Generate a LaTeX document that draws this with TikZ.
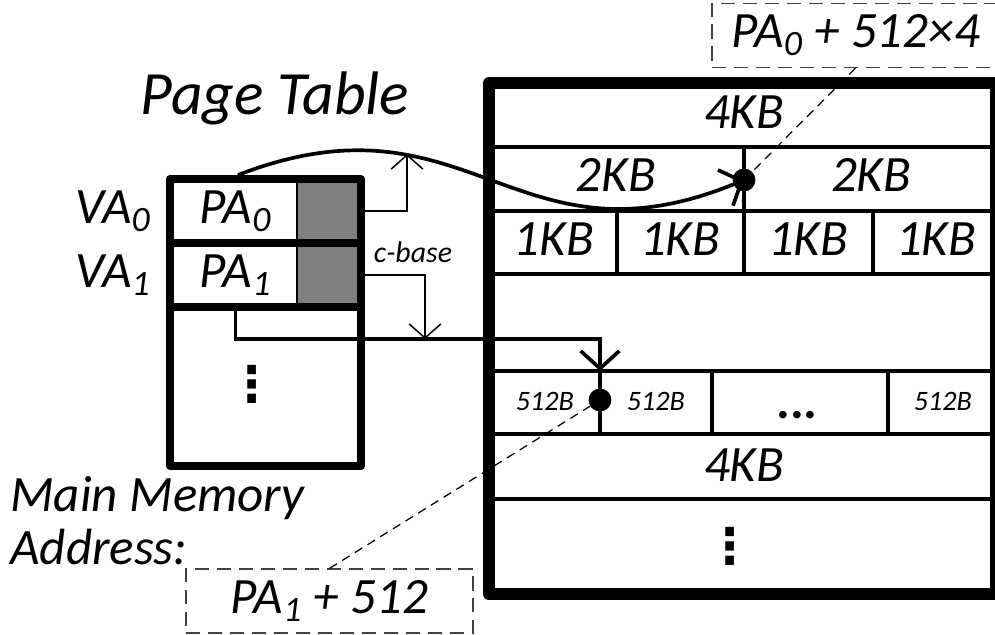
\documentclass[tikz,border=0pt]{standalone}
\usepackage{fontspec}
\setmainfont{Carlito}
\newfontface\symface{DejaVu Sans Bold}
\usetikzlibrary{arrows.meta,positioning}
\newcommand{\idx}[1]{\textsubscript{#1}}
\newcommand{\vdotz}{{\symface\fontsize{28}{30}\selectfont ⋮}}
\tikzset{
  heavy/.style={line width=4.5pt,line join=round},
  memwall/.style={line width=6.8pt,line join=round},
  grid/.style={line width=2pt},
  cell/.style={inner sep=0pt,minimum width=2.46cm,minimum height=1.28cm},
  flag/.style={inner sep=0pt,minimum width=1.26cm,minimum height=1.28cm,fill=gray},
  dot/.style={circle,fill=black,inner sep=0pt,minimum size=13pt},
  tag/.style={draw=black!75,line width=0.7pt,dash pattern=on 8pt off 4.5pt,
    inner sep=0pt,minimum width=5.74cm,minimum height=1.28cm},
  lead/.style={line width=0.7pt,dash pattern=on 5pt off 3.5pt},
  link/.style={line width=2.1pt,-{Straight Barb[length=10pt,width=22pt]}},
  hop/.style={line width=0.85pt,-{Straight Barb[length=8pt,width=18pt]}},
  small/.style={font=\itshape\fontsize{16}{18}\selectfont}
}
\begin{document}
\begin{tikzpicture}[x=0.02cm,y=-0.02cm,font=\itshape\fontsize{29}{30}\selectfont]
\useasboundingbox (0,0) rectangle (995,635);

% page table
\node[flag] (g0) at (328.5,211) {};
\node[flag] (g1) at (328.5,275) {};
\draw[line width=1.7pt] (297,179) -- (297,307);
\draw[heavy] (170,243) -- (361,243) (170,307) -- (361,307);
\draw[heavy] (170,179) rectangle (361,466);
\node[cell] (pa0) at (235.5,211) {PA\idx{0}};
\node[cell] (pa1) at (235.5,275) {PA\idx{1}};
\node (va0) at (113,211) {VA\idx{0}};
\node (va1) at (113,275) {VA\idx{1}};
\node (ptdots) at (252,384) {\vdotz};
\node[font=\itshape\fontsize{35}{38}\selectfont] (title) at (275,98) {Page Table};
\node[anchor=north west,inner sep=0pt,align=left] (mainaddr) at (10,476) {Main Memory\\Address:};

% main memory
\draw[grid] (489,147) -- (996,147) (489,211) -- (996,211) (489,274) -- (996,274)
  (489,371) -- (996,371) (489,434) -- (996,434) (489,499) -- (996,499);
\draw[grid] (744,147) -- (744,211);
\draw[grid] (617,211) -- (617,274) (744,211) -- (744,274) (873,211) -- (873,274);
\draw[grid] (712,371) -- (712,434) (888,371) -- (888,434);
\coordinate (b0) at (600,371);
\draw[grid] (b0) -- (600,434);
\draw[memwall] (489,83) rectangle (996,594);

\node (kb4a) at (744,112) {4KB};
\node (kb2a) at (616,175) {2KB};
\node (kb2b) at (871,175) {2KB};
\node (kb1a) at (554,239) {1KB};
\node (kb1b) at (680,239) {1KB};
\node (kb1c) at (808,239) {1KB};
\node (kb1d) at (936,239) {1KB};
\node[small] (b512a) at (545,401) {512B};
\node[small] (b512b) at (656,401) {512B};
\node[font=\bfseries\itshape\fontsize{29}{30}\selectfont] (bmore) at (798,415) {...};
\node[small] (b512c) at (943,401) {512B};
\node (kb4b) at (744,465) {4KB};
\node (memdots) at (730,546) {\vdotz};

% pointers
\node[dot] (d0) at (744,180) {};
\node[dot] (d1) at (600,400) {};
\coordinate (ptop) at (238,175);
\coordinate (cb0) at (407,154);
\coordinate (cb1) at (425,339);
\draw[link] (ptop) .. controls (471,85) and (514,277) .. (d0.center);
\draw[link] (pa1.south) |- (b0 |- cb1) -- (b0);
\draw[hop] (g0.east) -| (cb0);
\draw[hop] (g1.east) -| (cb1);
\node[font=\itshape\fontsize{17}{19}\selectfont] (cbase) at (413,252) {c-base};

% addresses
\node[tag] (a0) at (855.5,35.5) {PA\idx{0} + 512×4};
\node[tag] (a1) at (329.5,601) {PA\idx{1} + 512};
\draw[lead] (a0.south) -- (d0);
\draw[lead] (a1.north) -- (d1);
\end{tikzpicture}
\end{document}
